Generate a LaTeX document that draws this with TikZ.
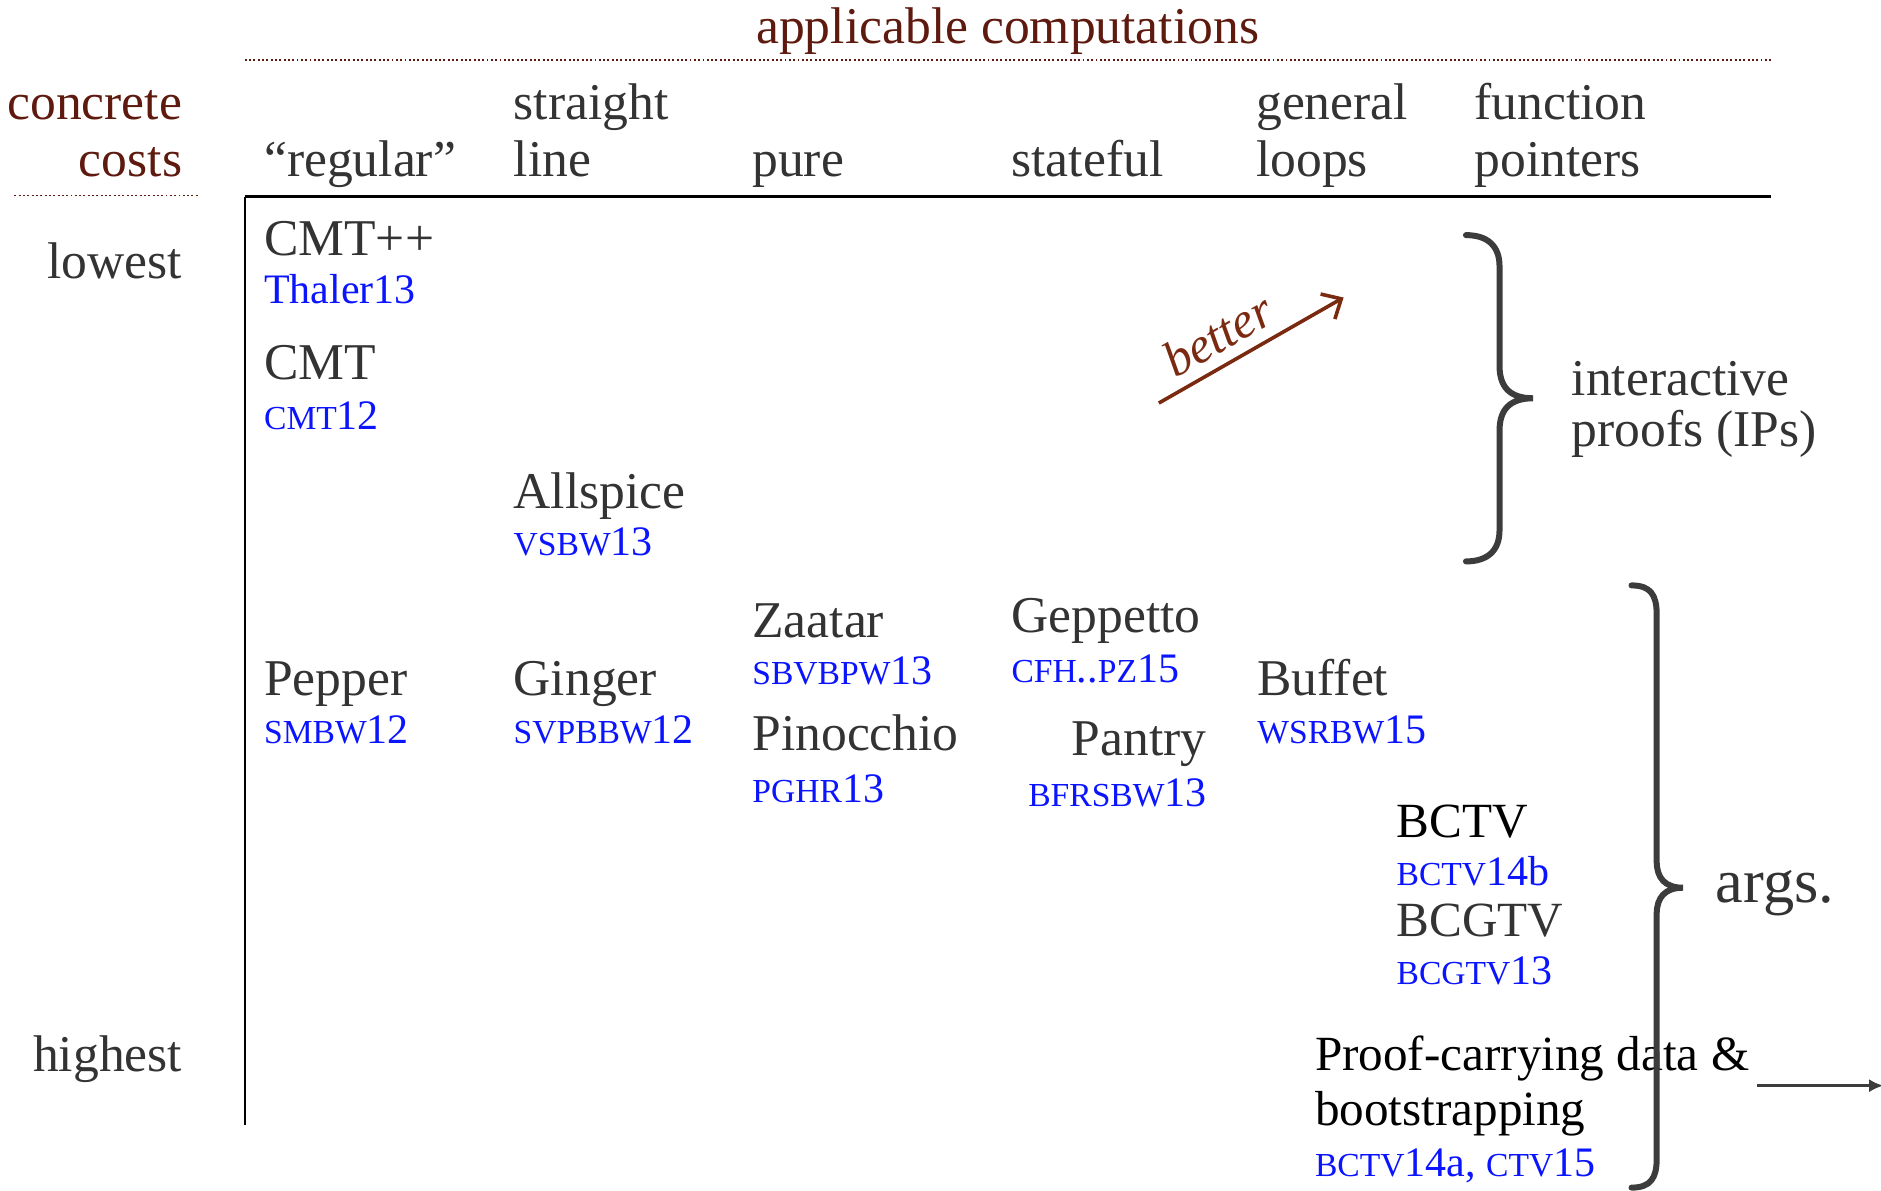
\documentclass[tikz,border=0pt]{standalone}
\usepackage{fontspec}
\setmainfont{Liberation Serif}
\usetikzlibrary{arrows.meta}
\definecolor{ink}{HTML}{333333}
\definecolor{headred}{HTML}{5E1A0E}
\definecolor{betterred}{HTML}{7A2A10}
\definecolor{citeblue}{HTML}{0A14FF}
\definecolor{bracegray}{HTML}{3C3C3C}
% small capitals faked by smaller upper-case letters
\newcommand\scl[1]{{\fontsize{28}{32}\selectfont #1}}
\tikzset{
  lbl/.style={anchor=base west, inner sep=0pt, text=ink, font=\fontsize{43}{50}\selectfont},
  lblr/.style={lbl, anchor=base east},
  head/.style={lbl, text=headred},
  headr/.style={lblr, text=headred},
  blk/.style={lbl, text=black, font=\fontsize{41}{48}\selectfont},
  cite/.style={anchor=base west, inner sep=0pt, text=citeblue, font=\fontsize{35}{40}\selectfont},
  citer/.style={cite, anchor=base east},
  dotrule/.style={draw=headred, line width=1.6pt, dotted},
  axis/.style={draw=black, line width=2.2pt},
  brace/.style={draw=bracegray, line width=5pt, line cap=round},
  betterarrow/.style={draw=betterred, line width=3pt, -{Straight Barb[length=13pt,width=24pt,line width=3pt]}},
  outarrow/.style={draw=bracegray, line width=3pt, -{Latex[length=12pt,width=11pt]}}
}
\begin{document}
\begin{tikzpicture}[x=1pt,y=-1pt]
\useasboundingbox (0,0) rectangle (1568,992);

% titles and rules
\node[head, anchor=base] (title) at (840,36) {applicable computations};
\draw[dotrule] (204,50) -- (1476,50);
\node[headr] (concrete) at (152,100) {concrete};
\node[headr] (costs) at (152,147) {costs};
\draw[dotrule] (12,163) -- (165,163);

% column headers
\node[lbl] (regular) at (220,147) {“regular”};
\node[lbl] (straight) at (428,100) {straight};
\node[lbl] (line) at (428,147) {line};
\node[lbl] (pure) at (627,147) {pure};
\node[lbl] (stateful) at (843,147) {stateful};
\node[lbl] (general) at (1047,100) {general};
\node[lbl] (loops) at (1047,147) {loops};
\node[lbl] (function) at (1229,100) {function};
\node[lbl] (pointers) at (1229,147) {pointers};

% axes
\draw[axis] (204,164) -- (1476,164);
\draw[draw=black, line width=1.8pt] (204,164) -- (204,938);

% row labels
\node[lblr] (lowest) at (152,232) {lowest};
\node[lblr] (highest) at (152,893) {highest};

% systems and references
\node[lbl] (cmtpp) at (220,213) {CMT++};
\node[cite] (thaler) at (220,253) {Thaler13};
\node[lbl] (cmt) at (220,316) {CMT};
\node[cite] (cmtref) at (220,358) {\scl{CMT}12};
\node[lbl] (allspice) at (428,424) {Allspice};
\node[cite] (vsbw) at (428,463) {\scl{VSBW}13};
\node[lbl] (zaatar) at (627,531) {Zaatar};
\node[cite] (sbvbpw) at (627,571) {\scl{SBVBPW}13};
\node[lbl] (geppetto) at (843,527) {Geppetto};
\node[cite] (cfhpz) at (843,569) {\scl{CFH}..\scl{PZ}15};
\node[lbl] (pepper) at (220,580) {Pepper};
\node[cite] (smbw) at (220,620) {\scl{SMBW}12};
\node[lbl] (ginger) at (428,580) {Ginger};
\node[cite] (svpbbw) at (428,620) {\scl{SVPBBW}12};
\node[lbl] (pinocchio) at (627,626) {Pinocchio};
\node[cite] (pghr) at (627,669) {\scl{PGHR}13};
\node[lblr] (pantry) at (1006,630) {Pantry};
\node[citer] (bfrsbw) at (1006,672) {\scl{BFRSBW}13};
\node[lbl] (buffet) at (1048,580) {Buffet};
\node[cite] (wsrbw) at (1048,620) {\scl{WSRBW}15};
\node[blk] (bctv) at (1164,698) {BCTV};
\node[cite] (bctvb) at (1164,738) {\scl{BCTV}14b};
\node[lbl, font=\fontsize{41}{48}\selectfont] (bcgtv) at (1164,781) {BCGTV};
\node[cite] (bcgtvref) at (1164,821) {\scl{BCGTV}13};
\node[blk] (pcd) at (1096,892) {Proof-carrying data \&};
\node[blk] (boot) at (1096,938) {bootstrapping};
\node[cite] (bctva) at (1096,981) {\scl{BCTV}14a, \scl{CTV}15};

% direction of improvement
\coordinate (b0) at (966,336);
\coordinate (b1) at (1120,248);
\draw[betterarrow] (b0) -- node[pos=0.4, sloped, above=9pt, inner sep=0pt, text=betterred, font=\fontsize{42}{48}\selectfont\itshape] (better) {better} (b1);

% braces and their labels
\draw[brace] (1222,196) .. controls (1240,196) and (1250,205) .. (1250,222) -- (1250,305)
  .. controls (1250,322) and (1258,332) .. (1278,332)
  .. controls (1258,332) and (1250,342) .. (1250,359) -- (1250,442)
  .. controls (1250,459) and (1240,468) .. (1222,468);
\node[lbl] (interactive) at (1310,330) {interactive};
\node[lbl] (proofs) at (1310,372) {proofs (IPs)};

\draw[brace] (1360,488) .. controls (1376,488) and (1381,496) .. (1381,512) -- (1381,718)
  .. controls (1381,732) and (1388,740) .. (1403,740)
  .. controls (1388,740) and (1381,748) .. (1381,762) -- (1381,966)
  .. controls (1381,982) and (1376,990) .. (1360,990);
\node[lbl, font=\fontsize{52}{60}\selectfont] (args) at (1430,752) {args.};

% outgoing arrow
\coordinate (o0) at (1465,905);
\coordinate (o1) at (1570,905);
\draw[outarrow] (o0) -- (o1);
\end{tikzpicture}
\end{document}
